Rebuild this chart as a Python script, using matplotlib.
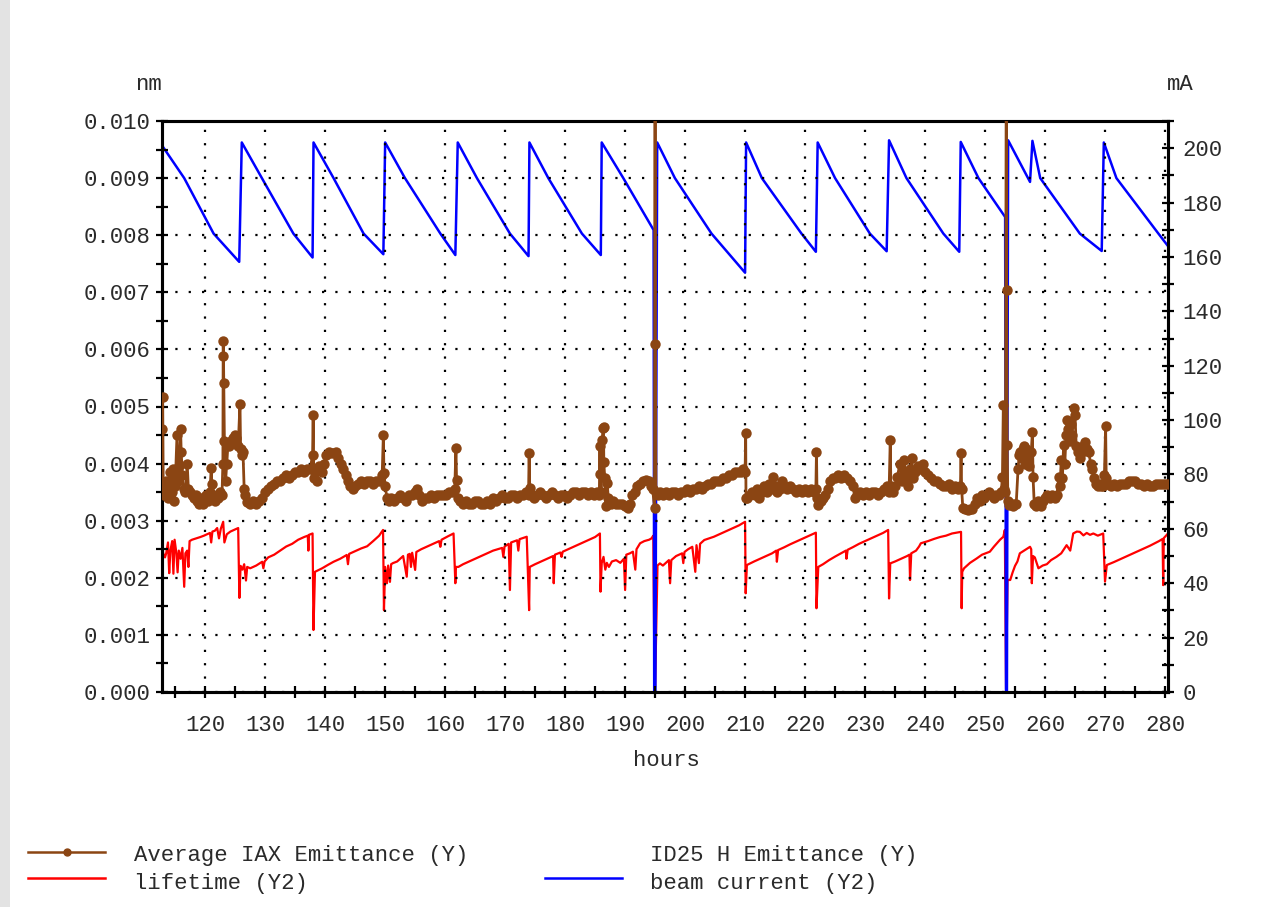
import numpy as np
import matplotlib
matplotlib.use("Agg")
import matplotlib.pyplot as plt
from matplotlib.lines import Line2D
from matplotlib.patches import Rectangle
from matplotlib.ticker import MultipleLocator, FormatStrFormatter

plt.rcParams['font.family'] = ['Liberation Mono', 'DejaVu Sans Mono']

# ---- beam current (mA, right axis) ----
beam_h = [112.8, 116.5, 121.4, 125.67,
          126.1, 129.45, 134.7, 137.9,
          138.06, 141.4, 146.4, 149.7,
          150.0, 153.3, 159.2, 161.7,
          162.1, 165.3, 170.8, 173.9,
          174.05, 177.2, 182.8, 185.95,
          186.1, 189.7, 194.75, 194.85, 195.05,
          195.35, 198.3, 204.4, 210.0,
          210.17, 212.8, 219.4, 221.8,
          222.1, 225.0, 230.8, 233.6,
          234.0, 236.9, 243.05, 245.7,
          245.95, 248.9, 253.35, 253.5, 253.65,
          253.85, 257.5, 257.9, 259.2, 265.8, 269.45,
          269.8, 271.9, 278.9, 280.5]
beam_ma = [201.0, 189.0, 168.6, 158.2,
           202.1, 189.0, 168.6, 159.8,
           202.1, 189.0, 168.6, 161.0,
           202.1, 189.0, 168.6, 160.7,
           202.1, 189.0, 168.6, 160.3,
           202.1, 189.0, 168.6, 160.7,
           202.1, 189.0, 169.9, 0.0, 0.0,
           202.1, 189.0, 168.6, 154.2,
           202.1, 189.0, 168.6, 161.9,
           202.1, 189.0, 168.6, 162.1,
           202.9, 189.0, 168.6, 161.9,
           202.3, 189.0, 174.7, 0.0, 0.0,
           202.9, 187.6, 202.7, 189.0, 168.6, 162.2,
           202.1, 189.0, 168.6, 164.0]

# ---- lifetime (right axis) ----
life_h = [112.8, 113.0, 113.3, 113.5, 113.8, 114.0, 114.2, 114.5, 114.7, 114.9,
          115.2, 115.4, 115.6, 115.9, 116.2, 116.5, 116.7, 117.0, 117.2, 117.4,
          117.8, 118.5, 119.2, 119.8, 120.3, 120.8, 121.0, 121.2, 121.6, 122.0,
          122.3, 122.6, 123.0, 123.2, 123.6, 124.2, 124.8, 125.5, 125.7,
          125.9, 126.2, 126.5, 126.8, 127.0, 127.5, 128.5, 129.5, 129.7, 129.9,
          130.5, 131.5, 132.5, 133.5, 134.5, 135.5, 136.5, 137.1, 137.2, 137.3,
          137.9, 138.05,
          138.3, 139.5, 140.5, 141.4, 142.5, 143.6, 143.8, 144.0, 145.0, 146.0,
          147.0, 148.0, 149.0, 149.65, 149.8,
          150.0, 150.3, 150.5, 150.8, 151.0, 151.3, 152.0, 152.5, 153.0, 153.6,
          153.8, 154.1, 154.3, 154.5, 155.0, 155.2, 156.0, 157.0, 158.0, 159.0,
          159.2, 159.4, 160.5, 161.4, 161.7,
          161.8, 162.2, 163.0, 164.0, 165.0, 166.0, 167.0, 168.0, 169.5, 169.7,
          169.9, 170.6, 170.8, 171.0, 172.0, 172.2, 172.4, 173.6, 174.0,
          174.1, 175.0, 176.0, 177.0, 178.0, 178.1, 178.3, 179.2, 179.4, 179.6,
          181.0, 182.0, 183.0, 184.0, 185.0, 185.8, 185.9,
          186.1, 186.4, 186.7, 186.95, 187.3, 187.8, 188.5, 189.2, 189.8, 190.0,
          190.2, 190.8, 191.3, 191.7, 191.9, 192.5, 193.2, 194.0, 194.4, 194.7,
          194.9,
          195.0, 195.4, 195.8, 196.3, 196.8, 197.3, 197.5, 197.7, 198.5, 199.5,
          199.7, 199.9, 200.5, 201.2, 201.7, 201.9, 202.3, 202.5, 203.2, 204.0,
          204.8, 206.0, 207.0, 208.0, 209.0, 210.0, 210.1,
          210.3, 211.5, 212.5, 213.5, 214.5, 215.2, 215.3, 215.5, 216.5, 217.5,
          218.5, 219.5, 220.5, 221.8, 221.9,
          222.2, 223.0, 224.0, 225.0, 226.0, 226.8, 226.9, 227.1, 228.0, 229.0,
          230.0, 231.0, 232.0, 233.0, 233.85, 234.0,
          234.2, 235.0, 236.0, 237.0, 237.4, 237.5, 237.7, 238.5, 239.0, 239.3,
          240.5, 241.5, 242.5, 243.5, 244.5, 245.5, 246.0, 246.1,
          246.2, 246.5, 247.5, 248.6, 249.5, 250.8, 251.5, 252.5, 253.05, 253.3,
          253.5,
          253.75, 254.2, 254.6, 255.0, 255.4, 255.8, 256.5, 257.5, 257.7, 257.8,
          258.0, 258.3, 258.9, 259.6, 260.3, 261.0, 261.9, 262.7, 263.6, 264.2,
          264.7, 265.3, 265.8, 266.4, 266.95, 267.5, 268.05, 268.8, 269.7, 270.0,
          270.3, 271.5, 273.0, 274.5, 276.0, 277.5, 279.0, 279.6, 279.7, 279.8,
          280.5]
life_y2 = [54.7, 51.0, 49.5, 51.0, 55.0, 43.7, 52.0, 55.5, 43.5, 56.0,
           51.0, 44.0, 52.0, 49.0, 53.0, 38.7, 51.0, 52.0, 46.0, 55.5,
           56.0, 56.5, 57.0, 57.5, 58.0, 58.5, 55.0, 59.0, 59.3, 60.3,
           56.5, 60.0, 62.6, 55.0, 58.0, 59.0, 59.6, 60.3, 34.6,
           46.4, 45.0, 47.0, 41.0, 46.0, 45.5, 46.5, 47.9, 45.5, 48.0,
           49.5, 50.5, 52.0, 53.5, 54.5, 56.0, 57.0, 57.5, 52.0, 57.8,
           58.3, 22.8,
           44.2, 45.5, 46.8, 47.9, 49.0, 50.4, 47.0, 50.8, 51.8, 52.8,
           53.6, 55.5, 57.5, 59.6, 30.1,
           46.0, 40.0, 46.5, 40.5, 47.0, 47.4, 48.0, 49.0, 50.0, 42.4,
           50.5, 50.8, 46.0, 51.2, 44.9, 51.5, 52.5, 53.5, 54.5, 55.5,
           53.4, 56.0, 57.3, 58.3, 40.0,
           46.0, 46.0, 47.0, 48.0, 49.0, 50.0, 51.0, 52.0, 53.0, 49.7,
           53.5, 54.5, 37.5, 55.0, 55.8, 52.0, 56.2, 57.1, 30.1,
           46.0, 47.0, 48.0, 49.0, 50.0, 40.0, 50.5, 51.3, 49.7, 51.6,
           53.0, 54.0, 55.0, 56.0, 57.0, 58.3, 36.9,
           47.4, 49.7, 45.0, 47.5, 46.0, 48.0, 48.5, 47.5, 49.0, 37.5,
           50.5, 51.0, 51.6, 45.0, 52.5, 54.7, 55.5, 56.0, 56.5, 57.5,
           2.0,
           2.0, 46.5, 47.3, 46.5, 47.5, 48.5, 40.0, 48.5, 50.0, 51.0,
           47.4, 51.5, 52.5, 53.4, 44.2, 54.0, 47.4, 54.5, 55.9, 56.5,
           57.1, 58.3, 59.3, 60.3, 61.3, 62.6, 36.3,
           46.7, 48.0, 49.0, 50.0, 51.0, 52.0, 47.9, 52.2, 53.2, 54.3,
           55.3, 56.3, 57.3, 58.6, 30.8,
           46.0, 47.0, 48.5, 49.8, 51.0, 52.0, 49.0, 52.3, 53.3, 54.5,
           55.5, 56.5, 57.5, 58.5, 59.6, 34.4,
           47.3, 48.0, 49.0, 50.0, 50.5, 41.2, 51.0, 52.0, 53.5, 54.7,
           55.5, 56.3, 57.0, 57.5, 58.3, 58.7, 58.9, 30.8,
           44.2, 45.5, 47.5, 49.1, 50.5, 51.6, 53.5, 56.0, 57.1, 59.6,
           1.0,
           41.2, 41.2, 44.0, 46.4, 48.0, 51.0, 52.0, 53.4, 52.5, 40.0,
           50.0, 49.5, 45.5, 46.5, 47.0, 48.5, 49.7, 51.0, 54.0, 52.0,
           58.3, 59.0, 58.9, 57.6, 58.5, 57.8, 58.3, 57.5, 58.3, 40.6,
           46.7, 47.8, 49.3, 50.8, 52.3, 53.8, 55.5, 56.3, 39.3, 56.6,
           58.3]

# ---- average IAX emittance (1e-3 nm, left axis) ----
iax_h = [112.8, 112.85, 112.9, 113.0, 113.2, 113.4, 113.6, 113.8, 114.0, 114.2,
         114.4, 114.6, 114.8, 115.0, 115.3, 115.5, 115.7, 115.9, 116.0, 116.2,
         116.4, 116.7, 117.0, 117.2, 117.5, 117.8, 118.1, 118.4, 118.7, 119.0,
         119.3, 119.6, 119.9, 120.2, 120.5, 120.8, 121.0, 121.1, 121.3, 121.6,
         121.9, 122.2, 122.5, 122.8, 122.95, 123.0, 123.05, 123.1, 123.2, 123.4,
         123.6, 123.8, 124.0, 124.3, 124.6, 124.9, 125.2, 125.5, 125.8, 125.9,
         126.1, 126.3, 126.5, 126.7, 127.0, 127.5, 128.0, 128.5, 129.0, 129.5,
         130.0, 130.5, 131.0, 131.5, 132.0, 132.5, 133.0, 133.5, 134.0, 134.5,
         135.0, 135.5, 136.0, 136.5, 137.0, 137.5, 137.9, 138.0, 138.1, 138.3,
         138.6, 139.0, 139.4, 139.8, 140.2, 140.6, 141.0, 141.4, 141.8, 142.2,
         142.6, 143.0, 143.4, 143.8, 144.2, 144.6, 145.0, 145.5, 146.0, 146.5,
         147.0, 147.5, 148.0, 148.5, 149.0, 149.5, 149.7, 149.8, 150.0, 150.3,
         150.6, 151.0, 151.5, 152.0, 152.5, 153.0, 153.5, 154.0, 154.5, 155.0,
         155.3, 155.7, 156.2, 156.7, 157.2, 157.7, 158.2, 158.7, 159.2, 159.7,
         160.2, 160.7, 161.2, 161.6, 161.8, 161.9, 162.1, 162.5, 163.0, 163.5,
         164.0, 164.5, 165.0, 165.5, 166.0, 166.5, 167.0, 167.5, 168.0, 168.5,
         169.0, 169.5, 170.0, 170.5, 171.0, 171.5, 172.0, 172.5, 173.0, 173.5,
         173.9, 174.0, 174.1, 174.4, 174.8, 175.3, 175.8, 176.3, 176.8, 177.3,
         177.8, 178.3, 178.8, 179.3, 179.8, 180.3, 180.8, 181.3, 181.8, 182.3,
         182.8, 183.3, 183.8, 184.3, 184.8, 185.3, 185.7, 185.8, 185.85, 186.0,
         186.2, 186.3, 186.4, 186.45, 186.6, 186.8, 187.0, 187.2, 187.6, 188.0,
         188.5, 189.0, 189.5, 190.0, 190.4, 190.8, 191.2, 191.6, 192.0, 192.5,
         193.0, 193.5, 193.9, 194.3, 194.6, 194.9, 195.0, 195.05, 195.15, 195.4,
         195.8, 196.3, 196.8, 197.3, 197.8, 198.3, 198.8, 199.3, 199.8, 200.3,
         200.8, 201.3, 201.8, 202.3, 202.8, 203.3, 203.8, 204.3, 204.8, 205.3,
         205.8, 206.3, 206.8, 207.3, 207.8, 208.3, 208.8, 209.3, 209.7, 210.0,
         210.1, 210.15, 210.4, 210.8, 211.2, 211.6, 212.0, 212.4, 212.8, 213.2,
         213.6, 214.0, 214.4, 214.7, 215.0, 215.4, 215.8, 216.2, 216.6, 217.0,
         217.5, 218.0, 218.5, 219.0, 219.5, 220.0, 220.5, 221.0, 221.5, 221.8,
         221.9, 222.0, 222.2, 222.6, 223.0, 223.4, 223.8, 224.2, 224.6, 225.0,
         225.5, 226.0, 226.5, 227.0, 227.5, 228.0, 228.3, 228.7, 229.2, 229.7,
         230.2, 230.7, 231.2, 231.7, 232.2, 232.7, 233.2, 233.7, 234.0, 234.2,
         234.3, 234.6, 235.0, 235.4, 235.8, 236.2, 236.5, 236.8, 237.2, 237.5,
         237.8, 238.0, 238.4, 238.8, 239.2, 239.6, 240.0, 240.5, 241.0, 241.5,
         242.0, 242.5, 243.0, 243.5, 244.0, 244.5, 245.0, 245.5, 245.9, 246.0,
         246.1, 246.3, 246.7, 247.1, 247.5, 247.9, 248.3, 248.7, 249.1, 249.5,
         249.9, 250.3, 250.7, 251.1, 251.5, 251.9, 252.3, 252.7, 252.9, 253.05,
         253.2, 253.4, 253.55, 253.6, 253.7, 253.8, 254.0, 254.3, 254.6, 254.9,
         255.2, 255.5, 255.7, 255.9, 256.1, 256.3, 256.5, 256.7, 256.9, 257.1,
         257.4, 257.7, 257.9, 258.0, 258.2, 258.5, 258.8, 259.1, 259.4, 259.7,
         260.0, 260.4, 260.8, 261.2, 261.6, 262.0, 262.3, 262.5, 262.7, 262.9,
         263.1, 263.3, 263.5, 263.7, 263.9, 264.1, 264.3, 264.5, 264.8, 265.0,
         265.2, 265.5, 265.8, 266.1, 266.4, 266.7, 267.0, 267.3, 267.6, 267.9,
         268.2, 268.5, 268.8, 269.1, 269.4, 269.7, 269.9, 270.1, 270.2, 270.5,
         271.0, 271.5, 272.0, 272.5, 273.0, 273.5, 274.0, 274.5, 275.0, 275.5,
         276.0, 276.5, 277.0, 277.5, 278.0, 278.5, 279.0, 279.5, 280.0, 280.5]
iax_em = [3.55, 4.6, 5.17, 3.6, 3.45, 3.7, 3.5, 3.4, 3.65, 3.85,
          3.5, 3.9, 3.35, 3.6, 4.5, 3.7, 3.95, 4.6, 4.2, 3.8,
          3.55, 3.5, 4.0, 3.55, 3.5, 3.45, 3.4, 3.45, 3.35, 3.3,
          3.4, 3.3, 3.35, 3.45, 3.35, 3.5, 3.92, 3.65, 3.4, 3.35,
          3.45, 3.4, 3.5, 3.45, 4.0, 6.15, 5.88, 5.41, 4.4, 3.7,
          4.0, 4.35, 4.3, 4.4, 4.45, 4.5, 4.45, 4.3, 5.05, 4.25,
          4.15, 4.2, 3.55, 3.45, 3.33, 3.3, 3.35, 3.3, 3.35, 3.4,
          3.5, 3.55, 3.6, 3.65, 3.7, 3.7, 3.75, 3.8, 3.75, 3.8,
          3.85, 3.85, 3.9, 3.85, 3.9, 3.9, 4.15, 4.85, 3.75, 3.85,
          3.7, 3.95, 3.85, 4.0, 4.15, 4.2, 4.18, 4.18, 4.2, 4.1,
          4.0, 3.9, 3.8, 3.7, 3.6, 3.55, 3.6, 3.65, 3.7, 3.65,
          3.7, 3.7, 3.65, 3.7, 3.7, 3.8, 4.5, 3.83, 3.6, 3.4,
          3.35, 3.4, 3.35, 3.4, 3.45, 3.4, 3.35, 3.45, 3.45, 3.5,
          3.55, 3.45, 3.35, 3.4, 3.4, 3.45, 3.4, 3.45, 3.45, 3.45,
          3.45, 3.5, 3.5, 3.55, 4.28, 3.71, 3.4, 3.35, 3.3, 3.35,
          3.3, 3.3, 3.35, 3.35, 3.3, 3.3, 3.35, 3.3, 3.4, 3.35,
          3.4, 3.45, 3.4, 3.4, 3.45, 3.45, 3.4, 3.45, 3.45, 3.5,
          3.45, 4.18, 3.57, 3.45, 3.4, 3.45, 3.5, 3.45, 3.4, 3.45,
          3.5, 3.45, 3.4, 3.45, 3.45, 3.4, 3.45, 3.5, 3.5, 3.45,
          3.5, 3.5, 3.45, 3.5, 3.45, 3.5, 3.45, 4.3, 3.82, 3.5,
          4.42, 4.62, 4.64, 4.03, 3.75, 3.25, 3.66, 3.4, 3.3, 3.35,
          3.3, 3.3, 3.3, 3.25, 3.22, 3.3, 3.45, 3.5, 3.6, 3.65,
          3.7, 3.71, 3.7, 3.6, 3.55, 3.22, 12.0, 6.1, 3.5, 3.45,
          3.5, 3.45, 3.5, 3.45, 3.5, 3.5, 3.45, 3.5, 3.5, 3.55,
          3.5, 3.55, 3.55, 3.6, 3.55, 3.6, 3.65, 3.65, 3.7, 3.7,
          3.7, 3.75, 3.75, 3.8, 3.8, 3.85, 3.85, 3.85, 3.9, 3.85,
          4.53, 3.4, 3.4, 3.45, 3.5, 3.45, 3.55, 3.4, 3.5, 3.6,
          3.5, 3.65, 3.55, 3.77, 3.6, 3.5, 3.55, 3.7, 3.6, 3.55,
          3.6, 3.55, 3.5, 3.55, 3.5, 3.55, 3.5, 3.55, 3.5, 3.55,
          4.21, 3.4, 3.27, 3.35, 3.4, 3.45, 3.55, 3.7, 3.75, 3.75,
          3.8, 3.75, 3.8, 3.75, 3.7, 3.6, 3.4, 3.45, 3.5, 3.45,
          3.5, 3.45, 3.5, 3.5, 3.45, 3.5, 3.55, 3.6, 3.5, 4.42,
          3.6, 3.5, 3.6, 3.77, 4.0, 3.7, 4.06, 3.8, 3.6, 3.9,
          4.1, 3.75, 3.85, 3.95, 3.9, 4.0, 3.85, 3.8, 3.75, 3.7,
          3.7, 3.65, 3.6, 3.6, 3.65, 3.55, 3.6, 3.55, 3.6, 4.18,
          3.55, 3.22, 3.2, 3.18, 3.2, 3.2, 3.3, 3.4, 3.35, 3.45,
          3.4, 3.45, 3.5, 3.45, 3.4, 3.45, 3.45, 3.5, 3.77, 5.03,
          3.55, 3.5, 12.0, 7.04, 4.33, 3.35, 3.27, 3.3, 3.25, 3.3,
          3.3, 3.9, 4.15, 4.2, 4.1, 4.25, 4.3, 4.0, 4.25, 4.15,
          3.95, 4.2, 4.56, 3.77, 3.3, 3.25, 3.35, 3.3, 3.25, 3.35,
          3.4, 3.45, 3.4, 3.45, 3.4, 3.45, 3.77, 3.6, 4.06, 3.75,
          4.33, 4.0, 4.5, 4.76, 4.6, 4.4, 4.7, 4.5, 4.97, 4.85,
          4.3, 4.2, 4.1, 4.2, 4.3, 4.38, 4.25, 4.2, 4.0, 3.9,
          3.75, 3.65, 3.6, 3.65, 3.6, 3.6, 3.8, 4.65, 3.75, 3.65,
          3.6, 3.65, 3.6, 3.65, 3.65, 3.65, 3.7, 3.7, 3.7, 3.65,
          3.65, 3.6, 3.65, 3.6, 3.6, 3.65, 3.65, 3.65, 3.65, 3.65]

x_ticks = list(range(120, 281, 10))

ink = '#2a2a2a'
brown = '#8B4513'
fs = 16

fig = plt.figure(figsize=(12.8, 9.07), dpi=100)
fig.patch.set_facecolor('white')
fig.add_artist(Rectangle((0, 0), 10 / 1280, 1, transform=fig.transFigure,
                         facecolor='#e3e3e3', edgecolor='none'))

ax = fig.add_axes([162 / 1280, 1 - 692 / 907, (1168 - 162) / 1280, (692 - 121) / 907])
ax2 = ax.twinx()

# Y2 series: lifetime and beam current
ax2.plot(life_h, life_y2, color='#ff0000', lw=1.6, zorder=2)
ax2.plot(beam_h, beam_ma, color='#0000ff', lw=1.8, zorder=3)

# Y series: emittance drawn on top
ax.set_zorder(ax2.get_zorder() + 1)
ax.patch.set_visible(False)
ax.plot(iax_h, np.array(iax_em) * 1e-3, color=brown, lw=2.0,
        marker='o', markersize=7.5, markeredgewidth=0, zorder=4)

ax.set_xlim(112.8, 280.5)
ax.set_ylim(0, 0.010)
ax2.set_ylim(0, 210)

ax.set_xticks(x_ticks)
ax.xaxis.set_minor_locator(MultipleLocator(5))
ax.yaxis.set_major_locator(MultipleLocator(0.001))
ax.yaxis.set_minor_locator(MultipleLocator(0.0005))
ax.yaxis.set_major_formatter(FormatStrFormatter('%.3f'))
ax2.yaxis.set_major_locator(MultipleLocator(20))
ax2.yaxis.set_minor_locator(MultipleLocator(10))

ax.grid(True, which='major', color='black', linestyle=(0, (1, 5)), linewidth=1.6)

for a in (ax, ax2):
    for s in a.spines.values():
        s.set_linewidth(2.2)
        s.set_color('black')
ax.tick_params(axis='both', which='both', direction='inout', length=9, width=1.6,
               colors='black', labelcolor=ink, labelsize=fs)
ax.tick_params(axis='x', which='major', pad=12)
ax.tick_params(axis='y', which='major', pad=4)
ax.tick_params(axis='x', which='both', top=False)
ax2.tick_params(axis='y', which='both', direction='inout', length=9, width=1.6,
                colors='black', labelcolor=ink, labelsize=fs, pad=6)

fig.text(148 / 1280, 1 - 85 / 907, 'nm', ha='center', va='center', fontsize=fs, color=ink)
fig.text(1180 / 1280, 1 - 85 / 907, 'mA', ha='center', va='center', fontsize=fs, color=ink)
fig.text(666 / 1280, 1 - 760 / 907, 'hours', ha='center', va='center', fontsize=fs, color=ink)

# legend rows
def swatch(x0, x1, y, color, marker=None):
    yy = 1 - y / 907
    fig.add_artist(Line2D([x0 / 1280, x1 / 1280], [yy, yy], transform=fig.transFigure,
                          color=color, lw=1.8))
    if marker:
        fig.add_artist(Line2D([(x0 + x1) / 2 / 1280], [yy], transform=fig.transFigure,
                              color=color, marker=marker, markersize=5, lw=0))

swatch(28, 105, 852, brown, 'o')
swatch(28, 105, 878, '#ff0000')
swatch(545, 622, 878, '#0000ff')
for x, y, label in [(134, 856, 'Average IAX Emittance (Y)'),
                    (134, 883, 'lifetime (Y2)'),
                    (650, 856, 'ID25 H Emittance (Y)'),
                    (650, 883, 'beam current (Y2)')]:
    fig.text(x / 1280, 1 - y / 907, label, ha='left', va='center', fontsize=fs, color=ink)

fig.savefig('out.png', dpi=100)
